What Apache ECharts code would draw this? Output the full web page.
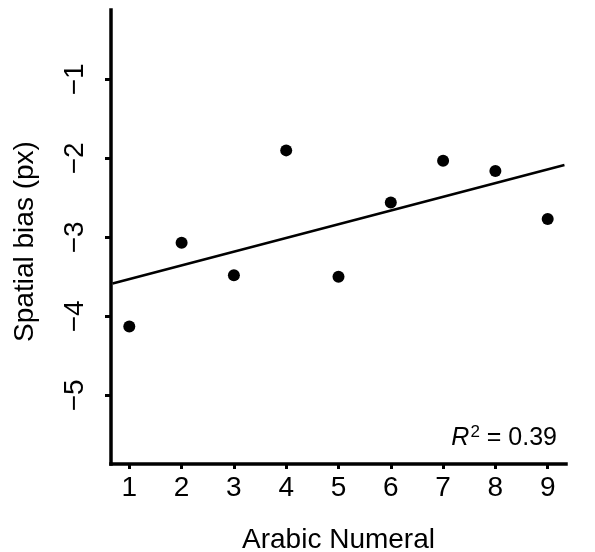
<!DOCTYPE html>
<html>
<head>
<meta charset="utf-8">
<script src="https://cdn.jsdelivr.net/npm/echarts@6/dist/echarts.min.js"></script>
<style>
html,body{margin:0;padding:0;background:#fff;}
#chart{width:595px;height:552px;}
</style>
</head>
<body>
<div id="chart"></div>
<script>
const numerals = [1, 2, 3, 4, 5, 6, 7, 8, 9];
const spatialBias = [-4.13, -3.07, -3.48, -1.90, -3.50, -2.56, -2.03, -2.16, -2.77];
const xTickValues = [1, 2, 3, 4, 5, 6, 7, 8, 9];
const yTickValues = [-5, -4, -3, -2, -1];
const fitLineX = [0.68, 9.32];
const fitLineY = [-3.585, -2.085];
const r2Label = '0.39';

const FONT = '"Liberation Sans", Arial, sans-serif';
const chart = echarts.init(document.getElementById('chart'), null, {renderer: 'canvas'});

const points = numerals.map((x, i) => [x, spatialBias[i]]);
const fit = fitLineX.map((x, i) => [x, fitLineY[i]]);

chart.setOption({
  animation: false,
  backgroundColor: '#fff',
  grid: {left: 111, right: 29, top: 10, bottom: 88, containLabel: false, outerBoundsMode: 'none'},
  xAxis: {
    type: 'value', min: 0.65, max: 9.35,
    name: 'Arabic Numeral', nameLocation: 'middle', nameGap: 62,
    nameTextStyle: {fontSize: 28, color: '#000', fontFamily: FONT},
    axisLine: {show: true, onZero: false, lineStyle: {color: '#000', width: 3.5, cap: 'square'}},
    axisTick: {show: true, customValues: xTickValues, length: 5, lineStyle: {color: '#000', width: 3}},
    axisLabel: {customValues: xTickValues, fontSize: 28, color: '#000', fontFamily: FONT, margin: 10},
    splitLine: {show: false}
  },
  yAxis: {
    type: 'value', min: -5.87, max: -0.123,
    name: 'Spatial bias (px)', nameLocation: 'middle', nameGap: 72, nameRotate: 90,
    nameTextStyle: {fontSize: 28, color: '#000', fontFamily: FONT, padding: [0, 9, 0, 0]},
    axisLine: {show: true, onZero: false, lineStyle: {color: '#000', width: 3.5, cap: 'square'}},
    axisTick: {show: true, customValues: yTickValues, length: 6, lineStyle: {color: '#000', width: 3}},
    axisLabel: {
      customValues: yTickValues, rotate: 90, fontSize: 28, color: '#000', fontFamily: FONT, margin: 22,
      formatter: v => (v < 0 ? '\u2212' : '') + Math.abs(v)
    },
    splitLine: {show: false}
  },
  graphic: [{
    type: 'text',
    right: 38, top: 424,
    style: {
      text: '{i|R}{s|2}{n| = ' + r2Label + '}',
      fill: '#000',
      rich: {
        i: {fontStyle: 'italic', fontSize: 25, fontFamily: FONT, fill: '#000'},
        s: {fontSize: 17, fontFamily: FONT, fill: '#000', padding: [0, 0, 12, 1]},
        n: {fontSize: 25, fontFamily: FONT, fill: '#000'}
      }
    }
  }],
  series: [
    {
      type: 'line', data: fit, showSymbol: false, silent: true,
      lineStyle: {color: '#000', width: 2.5}, z: 2
    },
    {
      type: 'scatter', data: points, symbol: 'circle', symbolSize: 12,
      itemStyle: {color: '#000', opacity: 1}, z: 3
    }
  ]
});
</script>
</body>
</html>
